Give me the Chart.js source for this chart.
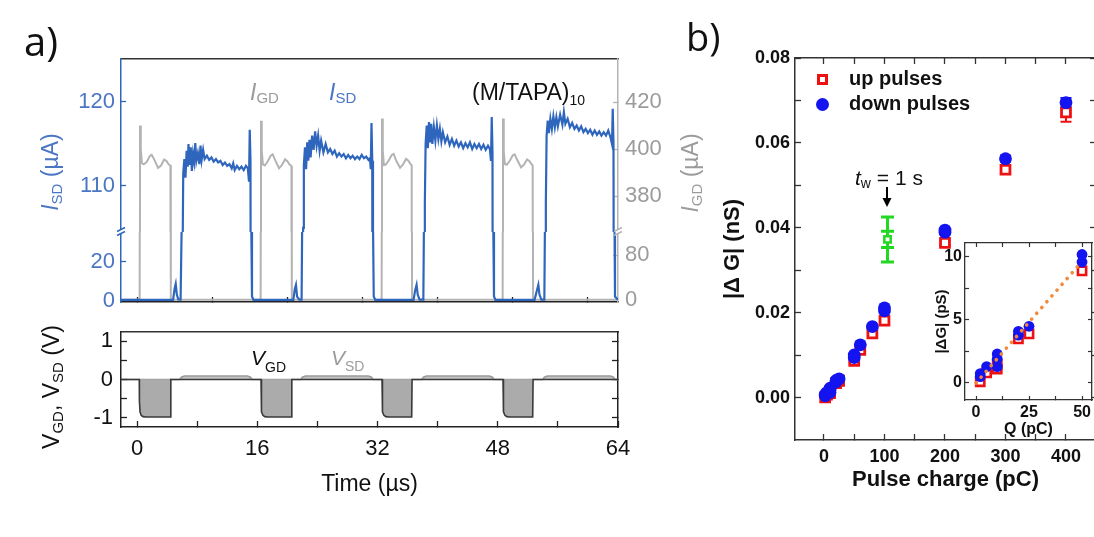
<!DOCTYPE html>
<html>
<head>
<meta charset="utf-8">
<title>Pulse response of (M/TAPA)10</title>
<script src="https://cdn.jsdelivr.net/npm/chart.js@4.4.1/dist/chart.umd.min.js"></script>
<style>
  html, body { margin:0; padding:0; width:1094px; height:537px; overflow:hidden; background:#fff; }
  body { position:relative; }
  canvas { position:absolute; left:0; top:0; }
  .t { position:absolute; white-space:nowrap; line-height:1; font-family:"Liberation Sans", Arial, sans-serif; }
  .sub { position:relative; }
  .rot { transform: translate(-50%,-50%) rotate(-90deg); }
  .b { font-weight:bold; }
</style>
</head>
<body>
<canvas id="a1" width="1094" height="537"></canvas>
<canvas id="a2" width="1094" height="537"></canvas>
<canvas id="a3" width="1094" height="537"></canvas>
<canvas id="b1" width="1100" height="537"></canvas>
<canvas id="b2" width="1094" height="537"></canvas>

<!-- panel labels -->
<div class="t" style="font-family:'Open Sans';font-size:40px;left:24px;top:21px;color:#111">a)</div>
<div class="t" style="font-family:'Open Sans';font-size:38px;left:686px;top:17px;color:#111">b)</div>

<!-- panel a annotations -->
<div class="t" style="left:250px;top:80.5px;font-size:23px;color:#9b9b9b"><i>I</i><span class="sub" style="font-size:15px;top:3.5px">GD</span></div>
<div class="t" style="left:329px;top:80.5px;font-size:23px;color:#4a76c3"><i>I</i><span class="sub" style="font-size:15px;top:3.5px">SD</span></div>
<div class="t" style="left:472px;top:80.5px;font-size:23px;color:#111">(M/TAPA)<span class="sub" style="font-size:14px;top:5px">10</span></div>
<div class="t rot" style="left:50px;top:172px;font-size:23px;color:#4a76c3"><i>I</i><span class="sub" style="font-size:15px;top:4px">SD</span> (µA)</div>
<div class="t rot" style="left:690px;top:173px;font-size:23px;color:#9b9b9b"><i>I</i><span class="sub" style="font-size:15px;top:4px">GD</span> (µA)</div>
<div class="t rot" style="left:51px;top:387px;font-size:23px;color:#111">V<span class="sub" style="font-size:15px;top:4px">GD</span>, V<span class="sub" style="font-size:15px;top:4px">SD</span> (V)</div>
<div class="t" style="left:251px;top:347px;font-size:21px;color:#111"><i>V</i><span class="sub" style="font-size:14px;top:7px">GD</span></div>
<div class="t" style="left:331px;top:347px;font-size:21px;color:#9b9b9b"><i>V</i><span class="sub" style="font-size:14px;top:6px">SD</span></div>

<!-- panel b annotations -->
<div class="t" style="left:855px;top:167px;font-size:21px;color:#111"><i>t</i><span class="sub" style="font-size:14px;top:3px">w</span> = 1 s</div>
<svg style="position:absolute;left:880px;top:187px" width="14" height="22"><line x1="7" y1="0" x2="7" y2="13" stroke="#000" stroke-width="2"/><polygon points="2.5,11 11.5,11 7,20" fill="#000"/></svg>
<div style="position:absolute;left:816.5px;top:73.5px;width:11px;height:11px;box-sizing:border-box;border:3px solid #ee1111;background:#fff"></div>
<div style="position:absolute;left:815.5px;top:97.5px;width:13px;height:13px;border-radius:50%;background:#1414f0"></div>
<div class="t b" style="left:849px;top:68px;font-size:20px;color:#111">up pulses</div>
<div class="t b" style="left:849px;top:93px;font-size:20px;color:#111">down pulses</div>

<script>
// ---------------- data: panel a (time traces, µs / µA / V) ----------------
const isdPulse1 = [[-2.13,0.3],[4.8,0.3],[5.0,6],[5.15,8.5],[5.3,3],[5.5,0.5],[5.8,0.4],[5.95,40],[6.05,100],[6.15,111.5],[6.3,113.2],[6.45,111.0],[6.6,114.2],[6.75,112.3],[6.85,115.0],[7.0,112.5],[7.15,114.6],[7.3,111.8],[7.45,113.8],[7.6,112.9],[7.75,115.1],[7.9,113.0],[8.1,113.9],[8.3,112.6],[8.45,114.8],[8.6,113.1],[8.8,114.3],[9.0,113.2],[9.3,113.6],[9.6,113.1],[9.9,113.4],[10.2,112.9],[10.5,113.2],[10.8,112.8],[11.1,113.0],[11.4,112.5],[11.7,112.8],[12.0,112.4],[12.3,112.6],[12.6,112.1],[12.8,112.7],[13.0,111.9],[13.3,112.4],[13.6,112.0],[13.9,112.3],[14.2,111.9],[14.5,112.4],[14.75,112.1],[14.9,110.5],[15.0,116.7],[15.1,113],[15.2,40],[15.3,2],[15.5,0.3]];
const isdPulse2 = [[20.8,0.3],[21.0,6],[21.15,8],[21.3,2],[21.6,0.4],[21.9,0.4],[22.0,50],[22.1,105],[22.2,112.5],[22.35,114.6],[22.5,112.0],[22.65,115.2],[22.8,113.0],[22.95,115.5],[23.1,113.4],[23.3,116.0],[23.5,114.3],[23.7,116.5],[23.9,114.8],[24.1,116.0],[24.3,114.2],[24.5,115.4],[24.8,114.0],[25.1,115.0],[25.4,114.0],[25.7,114.4],[26.0,113.8],[26.3,114.2],[26.6,113.5],[26.9,113.9],[27.2,113.5],[27.5,113.8],[27.8,113.3],[28.1,113.7],[28.4,113.3],[28.7,113.6],[29.0,113.2],[29.3,113.5],[29.6,113.2],[29.9,113.7],[30.2,113.3],[30.5,113.5],[30.8,113.1],[31.0,113.3],[31.1,112.0],[31.2,117.5],[31.3,113],[31.4,40],[31.5,2],[31.7,0.3]];
const isdPulse3 = [[36.8,0.3],[37.0,5],[37.2,8],[37.35,3],[37.6,0.4],[38.1,0.4],[38.2,50],[38.3,108],[38.4,115.0],[38.55,117.2],[38.7,114.5],[38.85,117.6],[39.0,115.2],[39.15,117.4],[39.3,115.0],[39.5,117.0],[39.7,115.4],[39.9,117.2],[40.1,115.6],[40.3,116.8],[40.5,115.3],[40.7,116.4],[41.0,115.2],[41.3,115.9],[41.6,114.9],[41.9,115.6],[42.2,114.8],[42.5,115.4],[42.8,114.7],[43.1,115.2],[43.4,114.5],[43.7,115.1],[44.0,114.6],[44.3,115.2],[44.6,114.4],[44.9,115.0],[45.2,114.5],[45.5,115.0],[45.8,114.4],[46.1,114.9],[46.4,114.3],[46.7,114.8],[46.95,114.4],[47.1,113.0],[47.2,118.2],[47.3,114],[47.4,40],[47.5,2],[47.7,0.3]];
const isdPulse4 = [[52.9,0.3],[53.2,5],[53.4,8],[53.55,3],[53.8,0.4],[54.2,0.4],[54.3,50],[54.4,108],[54.5,116.0],[54.65,117.8],[54.8,116.3],[55.0,118.0],[55.2,116.8],[55.4,118.3],[55.6,117.0],[55.8,118.2],[56.0,117.1],[56.3,118.5],[56.6,117.3],[56.8,118.8],[57.0,117.4],[57.3,118.0],[57.6,117.0],[57.9,117.5],[58.2,116.8],[58.5,117.2],[58.8,116.6],[59.1,117.1],[59.4,116.4],[59.7,116.8],[60.0,116.3],[60.3,116.7],[60.6,116.1],[60.9,116.6],[61.2,116.1],[61.5,116.5],[61.8,116.0],[62.1,116.4],[62.4,116.0],[62.7,116.6],[63.0,115.8],[63.2,115.0],[63.3,119.2],[63.4,115],[63.5,60],[63.6,2],[64,0.3]];

const igdPulse1 = [[-2.13,0.5],[0.35,0.5],[0.4,410],[0.5,400],[0.65,394],[0.9,393.5],[1.3,394.5],[1.7,397],[1.95,397.6],[2.3,395.5],[2.8,392],[3.2,393],[3.6,395.5],[3.9,395],[4.2,393.5],[4.45,393],[4.5,0.5]];
const igdPulse2 = [[16.45,0.5],[16.5,412],[16.6,399],[16.75,393.5],[17.0,393],[17.4,394.8],[17.8,397.2],[18.05,397.8],[18.4,395.2],[18.9,391.8],[19.3,393.2],[19.7,395.6],[20.0,394.8],[20.3,393.4],[20.55,392.8],[20.6,0.5]];
const igdPulse3 = [[32.55,0.5],[32.6,413],[32.7,399.5],[32.85,393.2],[33.1,393.4],[33.5,395.2],[33.9,397.5],[34.15,397.9],[34.5,395],[35.0,392],[35.4,393.5],[35.8,395.8],[36.1,395],[36.4,393.6],[36.55,393],[36.6,0.5]];
const igdPulse4 = [[48.65,0.5],[48.7,413],[48.8,399],[48.95,393.6],[49.2,393.3],[49.6,395],[50.0,397.3],[50.25,397.7],[50.6,395.3],[51.1,392.2],[51.5,393.4],[51.9,395.6],[52.2,394.9],[52.5,393.5],[52.65,393],[52.7,0.5],[64,0.5]];

const vgdTrace = [[-2.13,0],[0.3,0],[0.32,-0.55],[0.4,-0.84],[0.55,-0.93],[0.8,-0.965],[1.2,-0.975],[4.45,-0.975],[4.5,0],
  [16.5,0],[16.52,-0.55],[16.6,-0.84],[16.75,-0.93],[17.0,-0.965],[17.4,-0.975],[20.55,-0.975],[20.6,0],
  [32.6,0],[32.62,-0.55],[32.7,-0.84],[32.85,-0.93],[33.1,-0.965],[33.5,-0.975],[36.55,-0.975],[36.6,0],
  [48.7,0],[48.72,-0.55],[48.8,-0.84],[48.95,-0.93],[49.2,-0.965],[49.6,-0.975],[52.65,-0.975],[52.7,0],[64,0]];
const vsdTrace = [[-2.13,0],[5.7,0],[5.9,0.06],[6.3,0.09],[14.7,0.09],[15.1,0.06],[15.3,0],
  [21.8,0],[22.0,0.06],[22.4,0.09],[30.8,0.09],[31.2,0.06],[31.4,0],
  [37.9,0],[38.1,0.06],[38.5,0.09],[46.9,0.09],[47.3,0.06],[47.5,0],
  [54.0,0],[54.2,0.06],[54.6,0.09],[63.0,0.09],[63.4,0.06],[63.6,0],[64,0]];

const isdTicksUpper = [110, 120];
const isdTicksLower = [0, 20];
const igdTicksUpper = [380, 400, 420];
const igdTicksLower = [0, 80];
const timeTicksTop = [0, 10, 20, 30, 40, 50, 60];
const timeTicks = [0, 8, 16, 24, 32, 40, 48, 56, 64];
const voltTicks = [-1, -0.5, 0, 0.5, 1];

// ---------------- data: panel b (pulse charge pC / |ΔG| nS) ----------------
const upCharge = [2, 5, 10, 10, 20, 25, 50, 60, 80, 100, 200, 300, 400];
const upG      = [0.0001, 0.0008, 0.0011, 0.0015, 0.0035, 0.0040, 0.0087, 0.0113, 0.0152, 0.0182, 0.0365, 0.0537, 0.0672];
const upErr    = [0, 0, 0, 0, 0, 0, 0.0003, 0.0003, 0.0004, 0.0004, 0.0006, 0.0008, 0.0022];
const downCharge = [2, 2, 5, 10, 10, 10, 20, 20, 25, 50, 50, 60, 80, 100, 100, 200, 200, 300, 400];
const downG      = [0.0005, 0.0008, 0.0013, 0.0013, 0.0019, 0.0023, 0.0038, 0.0041, 0.0045, 0.0095, 0.0101, 0.0125, 0.0168, 0.0205, 0.0212, 0.0390, 0.0395, 0.0563, 0.0695];
const downErr    = [0, 0, 0, 0, 0, 0, 0, 0, 0, 0, 0, 0, 0, 0, 0, 0.0004, 0, 0.0007, 0.0011];
const waitCharge = [105];
const waitG      = [0.0373];
const waitErr    = [0.0053];
const waitErrInner = [0.0019];
const chargeTicks = [0, 50, 100, 150, 200, 250, 300, 350, 400];
const gTicks = [0, 0.01, 0.02, 0.03, 0.04, 0.05, 0.06, 0.07, 0.08];

// inset (Q pC / |ΔG| pS)
const insetUpQ   = [2, 5, 10, 10, 20, 25, 50];
const insetUpG   = [0.1, 0.8, 1.1, 1.5, 3.5, 3.9, 8.9];
const insetDownQ = [2, 2, 5, 10, 10, 10, 20, 20, 25, 50, 50];
const insetDownG = [0.5, 0.75, 1.3, 1.3, 1.9, 2.3, 3.8, 4.1, 4.5, 9.6, 10.2];
const fitQ = [0, 50];
const fitG = [0, 9.65];
const qTicks = [0, 12.5, 25, 37.5, 50];
const psTicks = [0, 2.5, 5, 7.5, 10];

// ---------------- helpers ----------------
const W = 1094, H = 537;
const SANS = '"Liberation Sans", Arial, sans-serif';
const BLUE_LINE = '#2f66bd', BLUE_TEXT = '#4a76c3';
const GRAY_LINE = '#b3b3b3', GRAY_TEXT = '#9b9b9b';
const AX = '#333333';
Chart.defaults.font.family = SANS;
Chart.defaults.color = '#111';

const pairs = arr => arr.map(([x, y]) => ({x, y}));
const zip = (xs, ys) => xs.map((x, i) => ({x, y: ys[i]}));

function baseOptions(padding, scales) {
  return {
    responsive: false, maintainAspectRatio: false, animation: false, devicePixelRatio: 1, events: [],
    layout: {padding, autoPadding: false},
    plugins: {legend: {display: false}, tooltip: {enabled: false}, title: {display: false}},
    scales
  };
}
function axis(o) {
  const horiz = o.pos === 'top' || o.pos === 'bottom';
  return {
    type: 'linear', position: o.pos, min: o.min, max: o.max, display: true,
    afterBuildTicks: s => { s.ticks = o.ticks.map(v => ({value: v})); },
    afterFit: s => {
      if (horiz) s.height = o.size; else s.width = o.size;
      s.paddingLeft = 0; s.paddingRight = 0; s.paddingTop = 0; s.paddingBottom = 0;
    },
    ticks: {display: !!o.label, callback: o.label || (() => ''), color: o.text || '#111',
            font: o.font, padding: o.pad || 0, autoSkip: false, maxRotation: 0, minRotation: 0},
    grid: {display: true, drawOnChartArea: false, drawTicks: (o.tl || 0) > 0, tickLength: -(o.tl || 0),
           tickColor: o.color, tickWidth: o.tw || 1.3},
    border: {display: true, color: o.color, width: o.bw || 1.5},
    title: o.title || {display: false}
  };
}

const axisBreak = {
  id: 'axisBreak',
  afterDraw(c) {
    const a = c.chartArea, ctx = c.ctx, y = a.top;
    [[a.left, BLUE_LINE], [a.right, GRAY_LINE]].forEach(([x, col]) => {
      ctx.save();
      ctx.fillStyle = '#fff';
      ctx.fillRect(x - 2.5, y - 2, 5, 4);
      ctx.strokeStyle = col; ctx.lineWidth = 1.4;
      ctx.beginPath();
      ctx.moveTo(x - 4, y - 0.5); ctx.lineTo(x + 4, y - 4.5);
      ctx.moveTo(x - 4, y + 3.5); ctx.lineTo(x + 4, y - 0.5);
      ctx.stroke();
      ctx.restore();
    });
  }
};
const errorBars = {
  id: 'errorBars',
  beforeDatasetsDraw(chart) {
    const ctx = chart.ctx;
    chart.data.datasets.forEach((ds, i) => {
      if (!ds.errors) return;
      const meta = chart.getDatasetMeta(i);
      const xs = chart.scales[meta.xAxisID], ys = chart.scales[meta.yAxisID];
      ctx.save();
      ctx.strokeStyle = ds.errorColor; ctx.lineWidth = ds.errorWidth;
      ds.data.forEach((p, j) => {
        [ds.errors[j], ds.innerErrors ? ds.innerErrors[j] : 0].forEach((e, k) => {
          if (!e) return;
          const x = xs.getPixelForValue(p.x);
          const yt = ys.getPixelForValue(p.y + e), yb = ys.getPixelForValue(p.y - e);
          const cw = ds.capWidth;
          ctx.beginPath();
          if (k === 0) { ctx.moveTo(x, yt); ctx.lineTo(x, yb); }
          ctx.moveTo(x - cw, yt); ctx.lineTo(x + cw, yt);
          ctx.moveTo(x - cw, yb); ctx.lineTo(x + cw, yb);
          ctx.stroke();
        });
      });
      ctx.restore();
    });
  }
};
const whiteArea = {
  id: 'whiteArea',
  beforeDraw(c) {
    const a = c.chartArea, ctx = c.ctx;
    ctx.save(); ctx.fillStyle = '#fff';
    ctx.fillRect(a.left, a.top, a.right - a.left, a.bottom - a.top);
    ctx.restore();
  }
};

const T_MIN = -2.13, T_MAX = 64;
const isdData = pairs([...isdPulse1, ...isdPulse2, ...isdPulse3, ...isdPulse4]);
const igdData = pairs([...igdPulse1, ...igdPulse2, ...igdPulse3, ...igdPulse4]);
const traceSets = () => [
  {data: isdData, yAxisID: 'yL', xAxisID: 'x', borderColor: BLUE_LINE, borderWidth: 2.2, pointRadius: 0, clip: 0, order: 0, tension: 0},
  {data: igdData, yAxisID: 'yR', xAxisID: 'x', borderColor: GRAY_LINE, borderWidth: 2, pointRadius: 0, clip: 0, order: 1, tension: 0}
];
const numLabel = v => String(v);

// ---------------- panel a, upper segment ----------------
new Chart(document.getElementById('a1'), {
  type: 'line',
  data: {datasets: traceSets()},
  options: baseOptions({left: 0, right: 0, top: 0, bottom: H - 232}, {
    x: {type: 'linear', min: T_MIN, max: T_MAX, display: false},
    xt: axis({pos: 'top', min: T_MIN, max: T_MAX, ticks: [0], size: 59, color: AX}),
    yL: axis({pos: 'left', min: 104.52, max: 125.12, ticks: isdTicksUpper, label: numLabel, size: 121,
              color: BLUE_LINE, text: BLUE_TEXT, font: {size: 22}, pad: 11, tl: 5}),
    yR: axis({pos: 'right', min: 364.7, max: 438.3, ticks: igdTicksUpper, label: numLabel, size: W - 618,
              color: GRAY_LINE, text: GRAY_TEXT, font: {size: 22}, pad: 12, tl: 5})
  })
});

// ---------------- panel a, lower segment ----------------
new Chart(document.getElementById('a2'), {
  type: 'line',
  data: {datasets: traceSets()},
  options: baseOptions({left: 0, right: 0, top: 232, bottom: 0}, {
    x: axis({pos: 'bottom', min: T_MIN, max: T_MAX, ticks: timeTicksTop, size: H - 302, color: '#222', tl: 5}),
    yL: axis({pos: 'left', min: -0.8, max: 35.1, ticks: isdTicksLower, label: numLabel, size: 121,
              color: BLUE_LINE, text: BLUE_TEXT, font: {size: 22}, pad: 11, tl: 5}),
    yR: axis({pos: 'right', min: -3.56, max: 120.9, ticks: igdTicksLower, label: numLabel, size: W - 618,
              color: GRAY_LINE, text: GRAY_TEXT, font: {size: 22}, pad: 12, tl: 5})
  }),
  plugins: [axisBreak]
});

// ---------------- panel a, voltages ----------------
new Chart(document.getElementById('a3'), {
  type: 'line',
  data: {datasets: [
    {data: pairs(vgdTrace), yAxisID: 'yL', xAxisID: 'x', borderColor: '#3a3a3a', borderWidth: 1.6,
     backgroundColor: '#ababab', fill: 'origin', pointRadius: 0, clip: 0, order: 0, tension: 0},
    {data: pairs(vsdTrace), yAxisID: 'yL', xAxisID: 'x', borderColor: '#9a9a9a', borderWidth: 1.5,
     backgroundColor: '#c4c4c4', fill: 'origin', pointRadius: 0, clip: 0, order: 1, tension: 0}
  ]},
  options: baseOptions({left: 0, right: 0, top: 0, bottom: 0}, {
    x: axis({pos: 'bottom', min: T_MIN, max: T_MAX, ticks: timeTicks, label: v => (v % 16 === 0 ? String(v) : ''),
             size: H - 427, color: '#222', font: {size: 22}, pad: 14.8, tl: 6,
             title: {display: true, text: 'Time (µs)', font: {size: 23}, color: '#111', padding: {top: 0, bottom: 38.2}}}),
    xt: axis({pos: 'top', min: T_MIN, max: T_MAX, ticks: [0], size: 332, color: AX}),
    yL: axis({pos: 'left', min: -1.234, max: 1.234, ticks: voltTicks, label: v => (Number.isInteger(v) ? String(v) : ''),
              size: 121, color: '#222', font: {size: 22}, pad: 14, tl: 6}),
    yR: axis({pos: 'right', min: -1.234, max: 1.234, ticks: voltTicks, size: W - 618, color: '#222', tl: 6})
  })
});

// ---------------- panel b, main ----------------
const C_MIN = -47.9, C_MAX = 449.6, G_MIN = -0.0099, G_MAX = 0.08;
new Chart(document.getElementById('b1'), {
  type: 'scatter',
  data: {datasets: [
    {label: 'down pulses', data: zip(downCharge, downG), errors: downErr, errorColor: '#1414f0', errorWidth: 2, capWidth: 5.5,
     pointStyle: 'circle', pointRadius: 6.4, backgroundColor: '#1414f0', borderColor: '#1414f0', pointBorderWidth: 0, order: 0, clip: false},
    {label: 'up pulses', data: zip(upCharge, upG), errors: upErr, errorColor: '#ee1111', errorWidth: 2, capWidth: 5.5,
     pointStyle: 'rect', pointRadius: 6.3, borderColor: '#ee1111', backgroundColor: '#fff', pointBorderWidth: 2.8, order: 1, clip: false},
    {label: 'tw = 1 s', data: zip(waitCharge, waitG), errors: waitErr, innerErrors: waitErrInner, errorColor: '#22d822', errorWidth: 3, capWidth: 6.5,
     pointStyle: 'rect', pointRadius: 4.5, borderColor: '#22d822', backgroundColor: '#fff', pointBorderWidth: 2.5, order: 2, clip: false}
  ]},
  options: baseOptions({left: 795 - 80, right: 0, top: 0, bottom: 0}, {
    x: axis({pos: 'bottom', min: C_MIN, max: C_MAX, ticks: chargeTicks, label: v => (v % 100 === 0 ? String(v) : ''),
             size: H - 440, color: AX, font: {size: 18, weight: 'bold'}, pad: 12.2, tl: 6,
             title: {display: true, text: 'Pulse charge (pC)', font: {size: 22, weight: 'bold'}, color: '#111', padding: {top: 0, bottom: 43.8}}}),
    xt: axis({pos: 'top', min: C_MIN, max: C_MAX, ticks: chargeTicks, size: 58, color: AX, tl: 6}),
    y: axis({pos: 'left', min: G_MIN, max: G_MAX, ticks: gTicks,
             label: v => (Math.round(v * 100) % 2 === 0 ? v.toFixed(2) : ''),
             size: 80, color: AX, font: {size: 18, weight: 'bold'}, pad: 11, tl: 6,
             title: {display: true, text: '|Δ G| (nS)', font: {size: 22, weight: 'bold'}, color: '#111', padding: {top: 4.8, bottom: 0}}}),
    yr: axis({pos: 'right', min: G_MIN, max: G_MAX, ticks: gTicks, size: 4, color: AX, tl: 6})
  }),
  plugins: [errorBars]
});

// ---------------- panel b, inset ----------------
const Q_MIN = -5.19, Q_MAX = 54.7, P_MIN = -1.35, P_MAX = 11.11;
new Chart(document.getElementById('b2'), {
  type: 'scatter',
  data: {datasets: [
    {label: 'fit', data: zip(fitQ, fitG), showLine: true, pointRadius: 0, borderColor: '#f08a3c', borderWidth: 3.6,
     borderDash: [0.1, 7.6], borderCapStyle: 'round', order: 0, clip: 0},
    {label: 'down pulses', data: zip(insetDownQ, insetDownG), pointStyle: 'circle', pointRadius: 5.4,
     backgroundColor: '#1414f0', borderColor: '#1414f0', pointBorderWidth: 0, order: 1, clip: false},
    {label: 'up pulses', data: zip(insetUpQ, insetUpG), pointStyle: 'rect', pointRadius: 5.8, borderColor: '#ee1111',
     backgroundColor: '#fff', pointBorderWidth: 2.6, order: 2, clip: false}
  ]},
  options: baseOptions({left: 965 - 35, right: 0, top: 243 - 10, bottom: H - 400 - 45}, {
    x: axis({pos: 'bottom', min: Q_MIN, max: Q_MAX, ticks: qTicks, label: v => (v % 25 === 0 ? String(v) : ''),
             size: 45, color: AX, font: {size: 16, weight: 'bold'}, pad: 7.4, tl: 4, bw: 1.3, tw: 1.2,
             title: {display: true, text: 'Q (pC)', font: {size: 16, weight: 'bold'}, color: '#111', padding: {top: 0, bottom: 5.4}}}),
    xt: axis({pos: 'top', min: Q_MIN, max: Q_MAX, ticks: qTicks, size: 10, color: AX, tl: 4, bw: 1.3, tw: 1.2}),
    y: axis({pos: 'left', min: P_MIN, max: P_MAX, ticks: psTicks, label: v => (v % 5 === 0 ? String(v) : ''),
             size: 35, color: AX, font: {size: 16, weight: 'bold'}, pad: 7, tl: 4, bw: 1.3, tw: 1.2,
             title: {display: true, text: '|ΔG| (pS)', font: {size: 15, weight: 'bold'}, color: '#111', padding: {top: 3, bottom: 0}}}),
    yr: axis({pos: 'right', min: P_MIN, max: P_MAX, ticks: psTicks, size: 2, color: AX, tl: 4, bw: 1.3, tw: 1.2})
  }),
  plugins: [whiteArea]
});
</script>
</body>
</html>
